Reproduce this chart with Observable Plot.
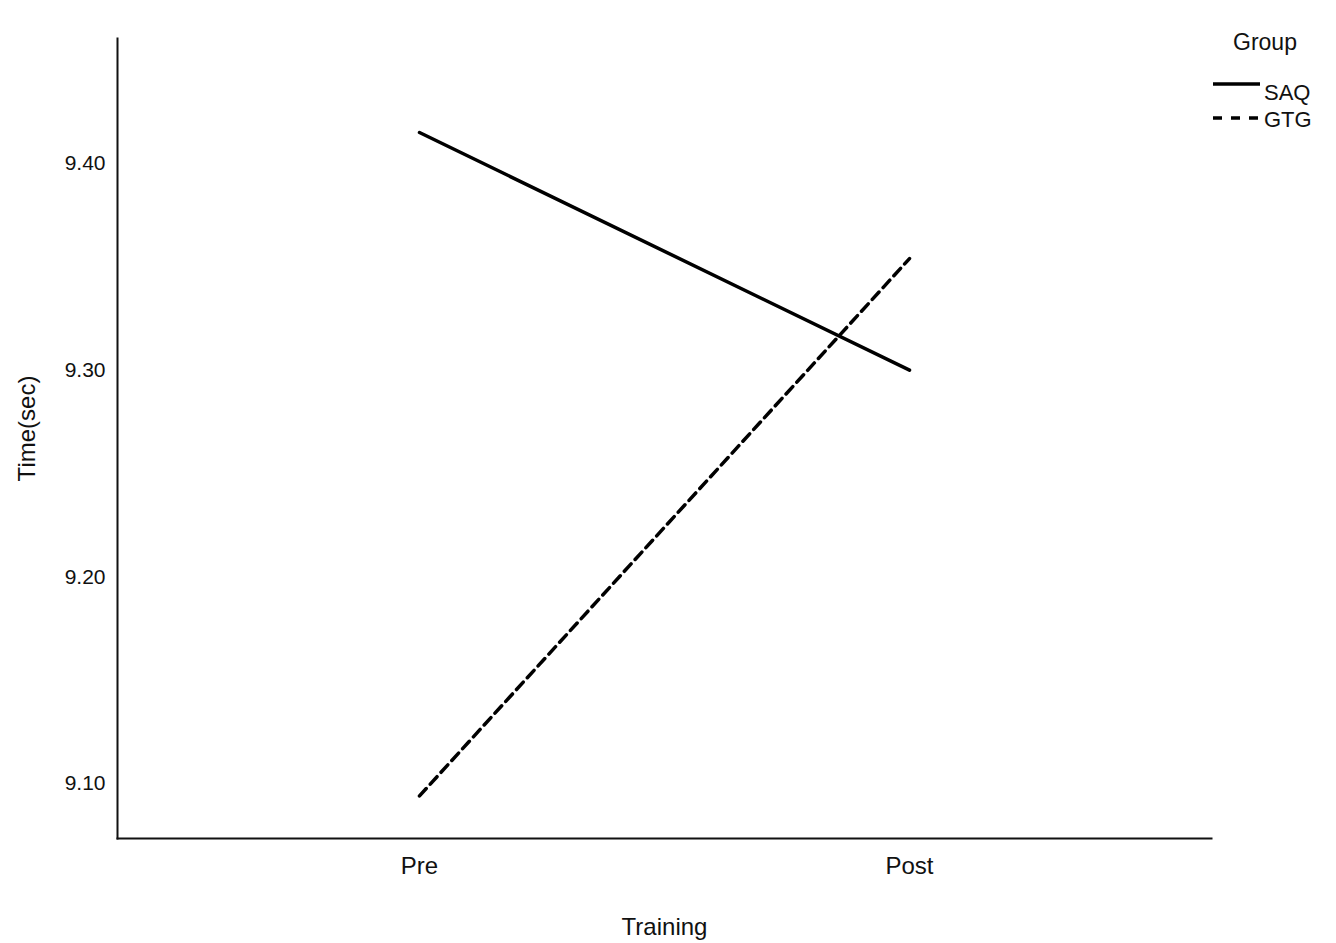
<!DOCTYPE html>
<html>
<head>
<meta charset="utf-8">
<script src="https://cdn.jsdelivr.net/npm/d3@7"></script>
<script src="https://cdn.jsdelivr.net/npm/@observablehq/plot@0.6"></script>
<style>
  html, body { margin: 0; padding: 0; background: #fff; }
  #wrap { position: relative; width: 1336px; height: 943px; font-family: "Liberation Sans", Arial, sans-serif; }
  #legend { position: absolute; left: 1210px; top: 24px; width: 126px; color: #111; }
</style>
</head>
<body>
<div id="wrap">
  <div id="chart"></div>
  <div id="legend"></div>
</div>
<script>
// ---- data ----
const phases = ["Pre", "Post"];
const groups = ["SAQ", "GTG"];
const saqTimes = [9.415, 9.300];
const gtgTimes = [9.094, 9.354];
const yTicks = [9.10, 9.20, 9.30, 9.40];
const yDomain = [9.0734, 9.4605];
const dashPattern = "10,6";

const rows = [];
phases.forEach((p, i) => {
  rows.push({phase: p, group: groups[0], time: saqTimes[i]});
  rows.push({phase: p, group: groups[1], time: gtgTimes[i]});
});

const chart = Plot.plot({
  width: 1336,
  height: 943,
  marginLeft: 117,
  marginRight: 125,
  marginTop: 38,
  marginBottom: 105,
  style: {fontFamily: "'Liberation Sans', Arial, sans-serif", background: "#fff", color: "#111"},
  x: {type: "point", domain: phases, padding: 0.615},
  y: {domain: yDomain},
  marks: [
    Plot.axisY({ticks: yTicks, tickFormat: ".2f", tickSize: 0, tickPadding: 12, fontSize: 21,
      label: "Time(sec)", labelAnchor: "center", labelArrow: "none", labelOffset: 100}),
    Plot.axisX({tickSize: 0, tickPadding: 18, fontSize: 24,
      label: "Training", labelAnchor: "center", labelArrow: "none", labelOffset: 96}),
    Plot.frame({anchor: "left", stroke: "#111", strokeWidth: 2}),
    Plot.frame({anchor: "bottom", stroke: "#111", strokeWidth: 2}),
    Plot.line(rows.filter(d => d.group === groups[0]), {x: "phase", y: "time", stroke: "#000", strokeWidth: 3.5, strokeLinecap: "round"}),
    Plot.line(rows.filter(d => d.group === groups[1]), {x: "phase", y: "time", stroke: "#000", strokeWidth: 3.5, strokeDasharray: dashPattern})
  ]
});
document.getElementById("chart").appendChild(chart);
d3.select(chart).selectAll('[aria-label="y-axis label"] text').attr("font-size", 24).attr("dx", "10");

// ---- legend ----
const legend = d3.select("#legend").append("svg").attr("width", 126).attr("height", 120)
  .style("font-family", "'Liberation Sans', Arial, sans-serif");
legend.append("text").attr("x", 23).attr("y", 26).attr("font-size", 23).attr("fill", "#111").text("Group");
const legendDash = [null, "9,9"];
const lineY = [60, 94];
const textY = [76, 103];
groups.forEach((g, i) => {
  legend.append("line").attr("x1", 3).attr("x2", 50).attr("y1", lineY[i]).attr("y2", lineY[i])
    .attr("stroke", "#000").attr("stroke-width", 3.5).attr("stroke-dasharray", legendDash[i]);
  legend.append("text").attr("x", 54).attr("y", textY[i]).attr("font-size", 22).attr("fill", "#111").text(g);
});
</script>
</body>
</html>
